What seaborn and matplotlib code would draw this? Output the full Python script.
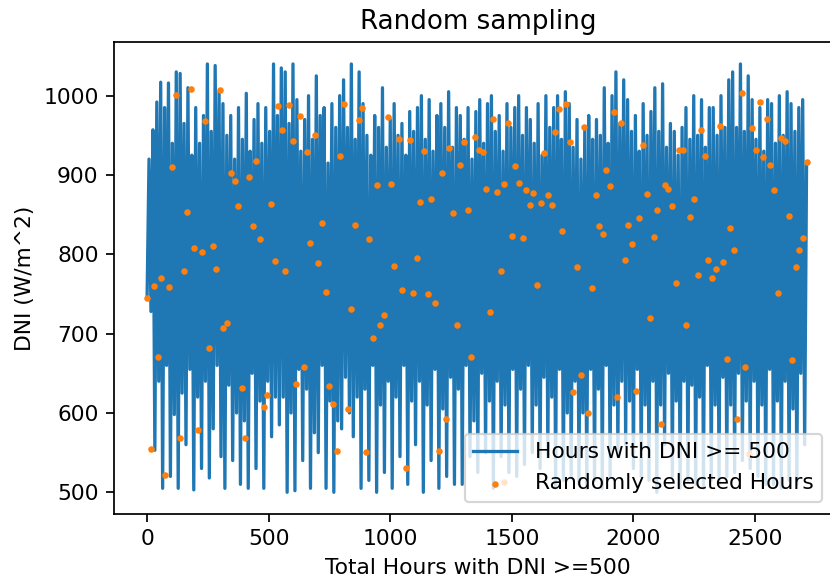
import numpy as np
import pandas as pd
import matplotlib
matplotlib.use("Agg")
import matplotlib.pyplot as plt
import seaborn as sns

# ---- data: DNI for hours with DNI >= 500 (coarse reading of the dense series, one value per 8 hours)
hour_step = 8
dni_values = [
    745, 920, 728, 957, 553, 992, 640, 1017, 505, 985,
    660, 1016, 520, 940, 598, 1030, 505, 1028, 625, 965,
    560, 1010, 655, 925, 503, 985, 620, 940, 530, 975,
    640, 1040, 518, 955, 580, 1038, 660, 1005, 545, 990,
    505, 950, 635, 975, 540, 920, 600, 985, 510, 945,
    590, 1003, 505, 930, 650, 970, 530, 990, 615, 940,
    505, 985, 640, 955, 570, 1040, 620, 975, 585, 1035,
    620, 1030, 500, 965, 600, 1040, 502, 995, 655, 930,
    540, 970, 630, 1000, 505, 945, 575, 1025, 550, 975,
    660, 985, 505, 915, 615, 990, 500, 960, 590, 1000,
    580, 1020, 645, 960, 600, 1040, 570, 945, 620, 1030,
    505, 990, 630, 950, 515, 925, 660, 975, 500, 960,
    610, 1010, 525, 935, 640, 970, 505, 990, 620, 950,
    545, 965, 660, 925, 510, 980, 615, 955, 560, 985,
    640, 1000, 500, 945, 610, 995, 540, 930, 655, 975,
    505, 990, 605, 960, 520, 1005, 645, 935, 510, 985,
    630, 975, 510, 945, 660, 985, 545, 920, 590, 980,
    525, 995, 650, 940, 550, 990, 615, 1000, 505, 955,
    640, 975, 545, 930, 610, 990, 525, 960, 655, 985,
    520, 1000, 630, 950, 535, 985, 660, 970, 550, 940,
    610, 990, 530, 925, 645, 1000, 545, 960, 620, 985,
    505, 1000, 655, 945, 515, 1005, 600, 990, 520, 935,
    640, 970, 510, 920, 600, 960, 505, 975, 655, 945,
    515, 970, 630, 950, 505, 1010, 660, 940, 520, 1000,
    610, 1030, 545, 965, 640, 1020, 560, 995, 615, 955,
    530, 975, 655, 930, 520, 990, 610, 950, 515, 980,
    640, 1010, 500, 955, 610, 1015, 560, 935, 650, 965,
    520, 955, 615, 925, 505, 960, 640, 985, 515, 945,
    635, 1000, 510, 950, 620, 995, 505, 935, 660, 985,
    515, 985, 610, 950, 510, 1000, 645, 960, 520, 1020,
    610, 1030, 525, 960, 650, 1040, 540, 955, 615, 1025,
    530, 995, 640, 945, 520, 985, 610, 930, 510, 995,
    655, 990, 510, 940, 615, 1000, 505, 950, 640, 1005,
    515, 990, 605, 955, 510, 985, 650, 995, 560, 916,
]

# ---- data: randomly selected hours (hour index, DNI)
sample_hours = [
    120, 180, 300, 240, 104, 164, 194, 225, 270, 151, 285, 59, 29, 89, 0, 312, 254, 45, 210, 134, 15, 75,
    540, 584, 630, 555, 600, 659, 449, 344, 361, 419, 374, 510, 435, 465, 670, 525, 569, 330, 644, 614, 391, 495, 480, 404,
    810, 884, 870, 990, 690, 794, 944, 1003, 721, 854, 914, 704, 1016, 735, 839, 975, 958, 929, 750, 765, 825, 780, 900,
    1035, 1080, 1139, 1243, 1305, 1349, 1364, 1288, 1214, 1124, 1169, 1259, 1319, 1109, 1050, 1095, 1155, 1184, 1273, 1333, 1229, 1199, 1065,
    1424, 1484, 1693, 1723, 1679, 1634, 1738, 1382, 1513, 1394, 1438, 1469, 1528, 1558, 1588, 1649, 1575, 1619, 1664, 1500, 1545, 1708, 1454, 1604, 1409, 1467,
    1920, 1948, 1798, 2039, 1889, 1904, 1845, 2055, 2023, 1859, 1874, 1979, 1994, 2083, 1964, 1769, 1829, 2068, 1783, 1753, 2009, 1934, 1813,
    2445, 2279, 2355, 2189, 2205, 2293, 2129, 2144, 2249, 2098, 2160, 2234, 2398, 2414, 2308, 2368, 2338, 2264, 2324, 2174, 2218, 2384, 2112, 2427,
    2519, 2549, 2489, 2607, 2622, 2504, 2533, 2563, 2714, 2578, 2639, 2697, 2682, 2667, 2593, 2459, 2653, 2474,
]
sample_dni = [
    1001, 1008, 1007, 968, 910, 853, 808, 803, 811, 779, 781, 770, 760, 759, 745, 707, 682, 671, 579, 569, 554, 522,
    987, 988, 975, 957, 943, 929, 918, 903, 893, 897, 861, 864, 836, 819, 814, 792, 779, 713, 658, 636, 631, 623, 608, 569,
    990, 985, 969, 973, 950, 924, 888, 889, 839, 837, 819, 789, 785, 752, 731, 723, 711, 695, 634, 611, 605, 552, 551,
    946, 944, 930, 934, 942, 948, 932, 913, 902, 866, 870, 852, 856, 795, 755, 751, 750, 738, 711, 671, 593, 552, 530,
    971, 966, 983, 989, 954, 928, 941, 929, 911, 882, 879, 889, 890, 881, 877, 875, 862, 865, 862, 823, 821, 829, 779, 761, 727, 513,
    980, 966, 960, 938, 906, 886, 875, 876, 846, 836, 825, 837, 813, 822, 793, 784, 757, 720, 648, 626, 628, 620, 600,
    1003, 957, 962, 932, 932, 924, 888, 882, 870, 856, 861, 847, 833, 805, 793, 790, 781, 774, 770, 764, 711, 668, 586, 592,
    992, 971, 959, 947, 943, 931, 923, 912, 916, 881, 848, 821, 805, 784, 751, 658, 667, 548,
]

title = "Random sampling"
x_label = "Total Hours with DNI >=500"
y_label = "DNI (W/m^2)"
line_label = "Hours with DNI >= 500"
dots_label = "Randomly selected Hours"

line_df = pd.DataFrame({
    "hour": np.arange(len(dni_values)) * hour_step,
    "dni": dni_values,
})
dots_df = pd.DataFrame({"hour": sample_hours, "dni": sample_dni})

W, H, DPI = 830, 580, 157
fig = plt.figure(figsize=(W / DPI, H / DPI), dpi=DPI)
plt.rcParams['font.family'] = ['DejaVu Sans']

# axes placed in pixel terms (right spine falls just outside the picture, as in the reference)
left, right, top, bottom = 114, 841.6, 42, 514
ax = fig.add_axes([left / W, 1 - bottom / H, (right - left) / W, (bottom - top) / H])

sns.lineplot(data=line_df, x="hour", y="dni", ax=ax, color="#1f77b4",
             linewidth=1.5, sort=False, estimator=None, label=line_label)
sns.scatterplot(data=dots_df, x="hour", y="dni", ax=ax, color="#ff7f0e",
                s=9, linewidth=0, marker="o", label=dots_label, zorder=3)

ax.set_xlim(-136, 2856)
ax.set_ylim(472.6, 1067.7)
ax.set_xticks([0, 500, 1000, 1500, 2000, 2500])
ax.set_yticks([500, 600, 700, 800, 900, 1000])
ax.tick_params(labelsize=10, length=3.5, width=0.8)
ax.set_xlabel(x_label, fontsize=10)
ax.set_ylabel(y_label, fontsize=10)
ax.set_title(title, fontsize=12)
for sp in ax.spines.values():
    sp.set_linewidth(0.8)
    sp.set_color("black")

ax.legend(loc="lower right", bbox_to_anchor=(822 / W, 1 - 502 / H),
          bbox_transform=fig.transFigure, borderaxespad=0, fontsize=10,
          framealpha=0.8)

fig.savefig("out.png", dpi=DPI)
